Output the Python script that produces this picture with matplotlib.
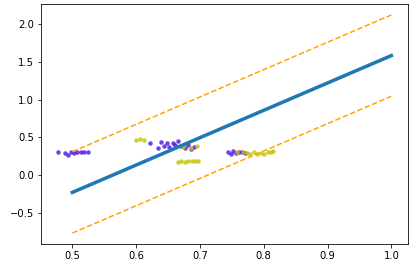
import matplotlib
matplotlib.use("Agg")
import matplotlib.pyplot as plt

# regression line and bounds
line_x = [0.5, 1.0]
fit_y = [-0.23, 1.585]
upper_y = [0.31, 2.125]
lower_y = [-0.77, 1.045]

# purple points
purple_x = [0.477, 0.488, 0.493, 0.498, 0.503, 0.508, 0.513, 0.518, 0.524,
            0.622, 0.634, 0.639, 0.643, 0.648, 0.652, 0.657, 0.661, 0.666, 0.671,
            0.676, 0.681, 0.686, 0.690, 0.744, 0.748, 0.752, 0.757, 0.761, 0.766, 0.771]
purple_y = [0.30, 0.29, 0.27, 0.30, 0.29, 0.30, 0.30, 0.30, 0.30,
            0.43, 0.36, 0.44, 0.38, 0.43, 0.37, 0.42, 0.40, 0.45, 0.38,
            0.36, 0.40, 0.35, 0.37, 0.30, 0.28, 0.32, 0.29, 0.31, 0.30, 0.29]

# yellow points
yellow_x = [0.600, 0.606, 0.613, 0.665, 0.670, 0.676, 0.682, 0.687, 0.692, 0.697,
            0.674, 0.686, 0.696,
            0.758, 0.768, 0.774, 0.779, 0.785, 0.790, 0.795, 0.801, 0.806, 0.811, 0.815]
yellow_y = [0.47, 0.48, 0.47, 0.17, 0.18, 0.17, 0.19, 0.18, 0.19, 0.18,
            0.37, 0.36, 0.38,
            0.31, 0.30, 0.29, 0.28, 0.30, 0.28, 0.29, 0.28, 0.30, 0.31, 0.32]

fig = plt.figure(figsize=(413 / 72, 267 / 72), dpi=72)
ax = fig.add_axes([41 / 413, 1 - 244 / 267, 367 / 413, 240 / 267])

ax.scatter(purple_x, purple_y, s=20, color="#4a12e4", alpha=0.8, linewidths=0)
ax.scatter(yellow_x, yellow_y, s=20, color="#c4c400", alpha=0.8, linewidths=0)
ax.plot(line_x, fit_y, color="#1f77b4", lw=3.5)
ax.plot(line_x, upper_y, color="orange", ls="--", lw=1.5)
ax.plot(line_x, lower_y, color="orange", ls="--", lw=1.5)

ax.set_xticks([0.5, 0.6, 0.7, 0.8, 0.9, 1.0])
ax.set_yticks([-0.5, 0.0, 0.5, 1.0, 1.5, 2.0])

fig.savefig("out.png", dpi=72)
